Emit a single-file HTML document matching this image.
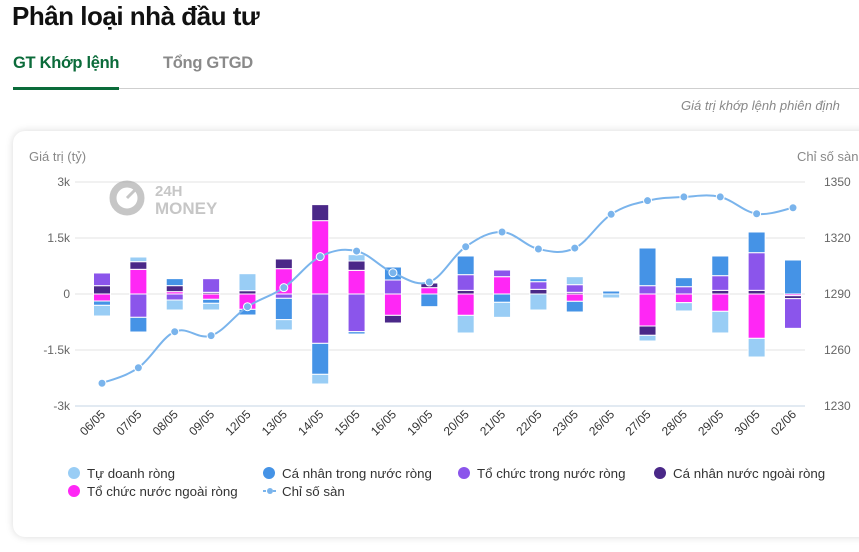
<!DOCTYPE html>
<html><head><meta charset="utf-8">
<style>
body{margin:0;width:859px;height:552px;overflow:hidden;background:#fff;font-family:"Liberation Sans",sans-serif;position:relative}
.abs{position:absolute;white-space:nowrap}
</style></head><body>
<div class="abs" style="left:12px;top:1px;font-size:26px;font-weight:bold;color:#111;letter-spacing:-0.5px">Phân loại nhà đầu tư</div>
<div class="abs" style="left:13px;top:54px;font-size:16.5px;font-weight:bold;color:#0b6b3a;letter-spacing:-0.3px">GT Khớp lệnh</div>
<div class="abs" style="left:163px;top:54px;font-size:16.5px;font-weight:bold;color:#8a8a8a;letter-spacing:-0.3px">Tổng GTGD</div>
<div class="abs" style="left:13px;top:88px;width:846px;height:1px;background:#cfcfcf"></div>
<div class="abs" style="left:13px;top:87px;width:106px;height:3px;background:#0b6b3a"></div>
<div class="abs" style="left:681px;top:98px;font-size:13px;font-style:italic;color:#888">Giá trị khớp lệnh phiên định</div>
<div class="abs" style="left:13px;top:131px;width:870px;height:406px;border-radius:12px;background:#fff;box-shadow:0 0 8px rgba(0,0,0,0.15)"></div>
<svg id="chart" class="abs" style="left:0;top:0" width="859" height="552"></svg>
<script>
const categories=["06/05","07/05","08/05","09/05","12/05","13/05","14/05","15/05","16/05","19/05","20/05","21/05","22/05","23/05","26/05","27/05","28/05","29/05","30/05","02/06"];
const tuDoanh=[-286,125,-268,-179,455,-277,-259,170,0,0,-473,-402,-429,214,-107,-152,-223,-580,-500,0];
const caNhanTN=[-116,-393,188,-107,-152,-571,-830,-63,348,-339,500,-223,80,-286,80,1009,241,527,554,911];
const toChucTN=[340,-625,-161,366,0,-116,-1322,-1009,375,0,420,179,205,205,0,223,196,393,1009,-795];
const caNhanNN=[223,205,161,45,89,259,429,250,-205,125,98,0,125,45,0,-250,0,98,98,-80];
const toChucNN=[-188,661,63,-143,-411,679,1965,634,-572,170,-572,464,0,-196,0,-857,-232,-464,-1188,-45];
const chiSo=[1242.2,1250.5,1269.8,1267.7,1283.2,1293.4,1310.0,1313.0,1301.4,1296.4,1315.3,1323.2,1314.1,1314.6,1332.7,1340.0,1342.0,1342.0,1333.0,1336.2];
const leftTicks=[3000,1500,0,-1500,-3000];
const leftTickLabels=["3k","1.5k","0","-1.5k","-3k"];
const rightTicks=[1350,1320,1290,1260,1230];

const NS="http://www.w3.org/2000/svg";
const svg=document.getElementById('chart');
const X0=102,X1=793,YT=182,YB=406;
const xPos=i=>X0+i*(X1-X0)/(categories.length-1);
const yL=v=>YT+(3000-v)/6000*(YB-YT);
const yR=v=>YT+(1350-v)/120*(YB-YT);
function el(t,a,p){const e=document.createElementNS(NS,t);for(const k in a)e.setAttribute(k,a[k]);(p||svg).appendChild(e);return e;}
function txt(x,y,s,a){const e=el('text',Object.assign({x:x,y:y,'font-family':'Liberation Sans, sans-serif','font-size':12,fill:'#666'},a));e.textContent=s;return e;}

let t=txt(29,161,"Giá trị (tỷ)",{'font-size':13,fill:'#888'});

t=txt(797,161,"Chỉ số sàn",{'font-size':13,fill:'#888'});


leftTicks.forEach((v,i)=>{
  const g=el('line',{x1:75,x2:805,y1:yL(v),y2:yL(v),stroke:i==4?'#c6d4e6':'#e3e3e3','stroke-width':1});
  
  const l=txt(70,yL(v)+4,leftTickLabels[i],{'text-anchor':'end'});
  
});
rightTicks.forEach(v=>{
  const l=txt(824,yR(v)+4,String(v),{});
  
});

const wm=el('g',{opacity:0.55});

el('circle',{cx:127,cy:198,r:14,fill:'none',stroke:'#999','stroke-width':7},wm);
el('line',{x1:127,y1:198,x2:138,y2:187,stroke:'#999','stroke-width':3},wm);
txt(155,196,"24H",{'font-size':15,'font-weight':'bold',fill:'#999'});
wm.appendChild(svg.lastChild);
txt(155,214,"MONEY",{'font-size':17,'font-weight':'bold',fill:'#999'});
wm.appendChild(svg.lastChild);

const series=[
 {d:toChucNN,c:'#ff27f5',n:'to-chuc-nuoc-ngoai'},
 {d:caNhanNN,c:'#4a2888',n:'ca-nhan-nuoc-ngoai'},
 {d:toChucTN,c:'#8b55eb',n:'to-chuc-trong-nuoc'},
 {d:caNhanTN,c:'#4593e6',n:'ca-nhan-trong-nuoc'},
 {d:tuDoanh,c:'#99cdf5',n:'tu-doanh'}];
categories.forEach((c,i)=>{
  let pos=0,neg=0;const x=xPos(i)-8.5;
  series.forEach(s=>{
    const v=s.d[i];if(!v)return;
    let a,b;
    if(v>0){a=pos;b=pos+v;pos=b;}else{a=neg;b=neg+v;neg=b;}
    const y1=yL(Math.max(a,b)),y2=yL(Math.min(a,b));
    const r=el('rect',{x:x,y:y1,width:17,height:Math.max(y2-y1,1),fill:s.c,stroke:'#fff','stroke-width':1});
    
    
  });
  const lb=txt(0,0,c,{'text-anchor':'end',transform:`translate(${xPos(i)+4},${415}) rotate(-45)`,fill:'#333'});
  
});

const pts=chiSo.map((v,i)=>[xPos(i),yR(v)]);
let d=`M${pts[0][0]},${pts[0][1]}`;
for(let i=0;i<pts.length-1;i++){
  const p0=pts[i-1]||pts[i],p1=pts[i],p2=pts[i+1],p3=pts[i+2]||p2,k=0.18;
  d+=` C${p1[0]+(p2[0]-p0[0])*k},${p1[1]+(p2[1]-p0[1])*k} ${p2[0]-(p3[0]-p1[0])*k},${p2[1]-(p3[1]-p1[1])*k} ${p2[0]},${p2[1]}`;
}
const ln=el('path',{d:d,fill:'none',stroke:'#7ab4ec','stroke-width':2});

pts.forEach(p=>{
  const m=el('circle',{cx:p[0],cy:p[1],r:4,fill:'#7ab4ec',stroke:'#fff','stroke-width':1});
  
});

const leg=[[68,473,'#99cdf5','Tự doanh ròng','c'],[263,473,'#4593e6','Cá nhân trong nước ròng','c'],[458,473,'#8b55eb','Tổ chức trong nước ròng','c'],[654,473,'#4a2888','Cá nhân nước ngoài ròng','c'],[68,491,'#ff27f5','Tổ chức nước ngoài ròng','c'],[263,491,'#7ab4ec','Chỉ số sàn','l']];
leg.forEach(L=>{
  const g=el('g',{});
  
  if(L[4]=='c')el('circle',{cx:L[0]+6,cy:L[1],r:6,fill:L[2]},g);
  else{el('line',{x1:L[0],x2:L[0]+14,y1:L[1],y2:L[1],stroke:L[2],'stroke-width':2,'stroke-dasharray':'3,2'},g);el('circle',{cx:L[0]+7,cy:L[1],r:3,fill:L[2]},g);}
  const tt=txt(L[0]+19,L[1]+5,L[3],{'font-size':13.3,fill:'#333'});g.appendChild(tt);
});
</script>
</body></html>
